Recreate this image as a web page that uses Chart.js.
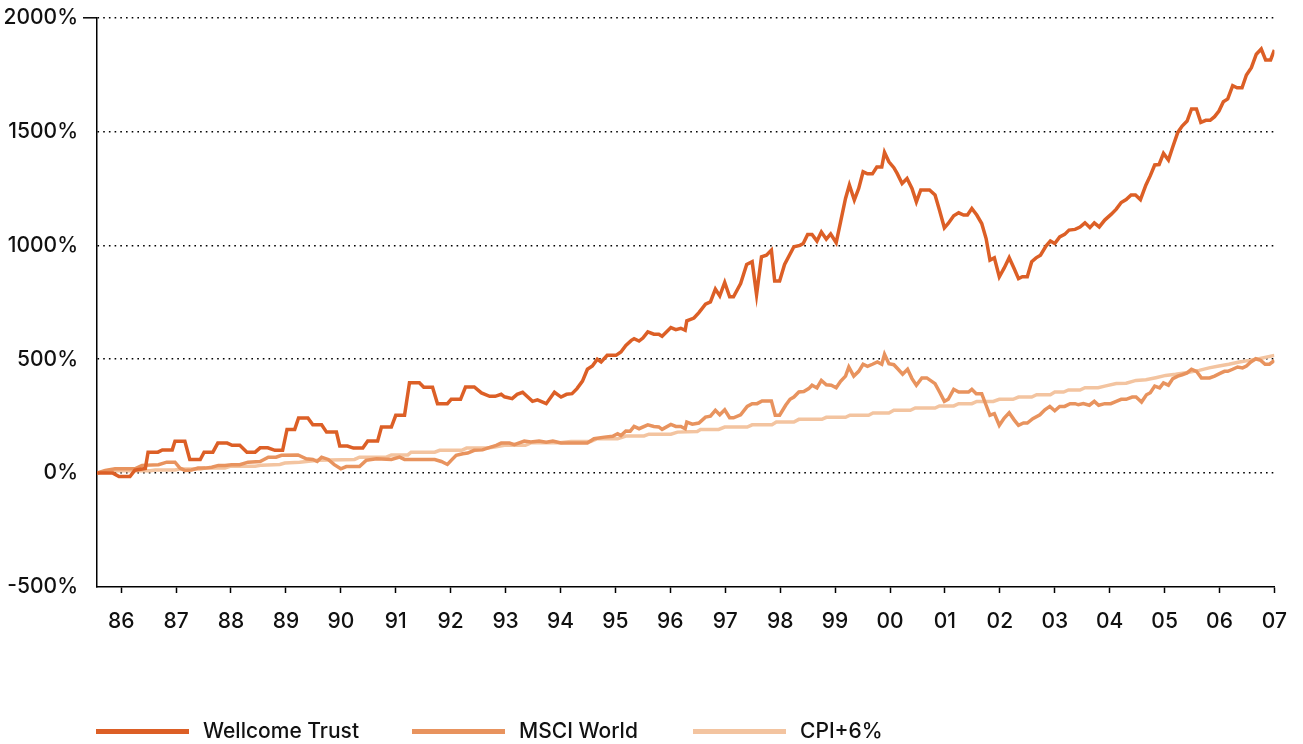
<!DOCTYPE html>
<html>
<head>
<meta charset="utf-8">
<script src="https://cdn.jsdelivr.net/npm/chart.js@4.4.1/dist/chart.umd.min.js"></script>
<style>
  html, body { margin: 0; padding: 0; background: #fff; }
  #wrap { position: relative; width: 1303px; height: 744px; }
  #chart { position: absolute; left: 0; top: 0; }
  .legend { position: absolute; top: 716px; font-family: Inter, "Liberation Sans", Arial, sans-serif; font-weight: 500; font-size: 21px; color: #111; }
  .legend .swatch { position: absolute; top: 13px; width: 93px; height: 5px; }
  .legend .label { position: absolute; top: 2px; white-space: nowrap; }
</style>
</head>
<body>
<div id="wrap">
  <canvas id="chart" width="1303" height="744"></canvas>
  <div class="legend" id="legend"></div>
</div>
<script>
// x positions are decimal years (tick "86" = 1986.0)
const xStart = 1985.56;
const xEnd = 2007.0;
const yearTicks = [1986, 1987, 1988, 1989, 1990, 1991, 1992, 1993, 1994, 1995, 1996,
  1997, 1998, 1999, 2000, 2001, 2002, 2003, 2004, 2005, 2006, 2007];
const pctTicks = [-500, 0, 500, 1000, 1500, 2000];

const seriesNames = ['Wellcome Trust', 'MSCI World', 'CPI+6%'];
const seriesColors = ['#DC5F26', '#E8935E', '#F3C4A0'];

const wellcomeX = [1985.56, 1985.71, 1985.85, 1985.96, 1986.16, 1986.25, 1986.44, 1986.49, 1986.67, 1986.75,
  1986.93, 1986.98, 1987.16, 1987.25, 1987.44, 1987.51, 1987.67, 1987.76, 1987.93, 1988.02,
  1988.16, 1988.29, 1988.44, 1988.53, 1988.67, 1988.80, 1988.94, 1989.02, 1989.16, 1989.23,
  1989.40, 1989.49, 1989.65, 1989.74, 1989.92, 1989.98, 1990.12, 1990.23, 1990.40, 1990.49,
  1990.67, 1990.74, 1990.92, 1991.00, 1991.16, 1991.25, 1991.43, 1991.51, 1991.67, 1991.76,
  1991.94, 1992.01, 1992.18, 1992.27, 1992.43, 1992.56, 1992.71, 1992.81, 1992.92, 1992.98,
  1993.12, 1993.21, 1993.31, 1993.49, 1993.58, 1993.74, 1993.89, 1994.01, 1994.11, 1994.21,
  1994.30, 1994.40, 1994.49, 1994.58, 1994.67, 1994.74, 1994.85, 1995.01, 1995.10, 1995.19,
  1995.29, 1995.34, 1995.43, 1995.50, 1995.59, 1995.70, 1995.79, 1995.85, 1996.01, 1996.10,
  1996.19, 1996.27, 1996.30, 1996.43, 1996.52, 1996.64, 1996.73, 1996.82, 1996.90, 1996.99,
  1997.08, 1997.15, 1997.28, 1997.39, 1997.49, 1997.57, 1997.66, 1997.75, 1997.84, 1997.90,
  1997.99, 1998.08, 1998.25, 1998.36, 1998.42, 1998.50, 1998.58, 1998.67, 1998.75, 1998.84,
  1998.92, 1999.02, 1999.10, 1999.19, 1999.26, 1999.35, 1999.43, 1999.51, 1999.59, 1999.68,
  1999.76, 1999.85, 1999.90, 1999.98, 2000.07, 2000.13, 2000.22, 2000.31, 2000.40, 2000.48,
  2000.56, 2000.72, 2000.82, 2000.90, 2000.99, 2001.06, 2001.16, 2001.25, 2001.34, 2001.41,
  2001.49, 2001.58, 2001.67, 2001.75, 2001.82, 2001.90, 2001.99, 2002.08, 2002.17, 2002.26,
  2002.34, 2002.41, 2002.50, 2002.58, 2002.66, 2002.74, 2002.84, 2002.92, 2003.00, 2003.09,
  2003.18, 2003.26, 2003.37, 2003.46, 2003.55, 2003.64, 2003.72, 2003.81, 2003.91, 2004.03,
  2004.12, 2004.21, 2004.30, 2004.39, 2004.47, 2004.56, 2004.66, 2004.74, 2004.82, 2004.90,
  2004.98, 2005.07, 2005.15, 2005.24, 2005.32, 2005.41, 2005.49, 2005.58, 2005.66, 2005.75,
  2005.83, 2005.91, 2005.99, 2006.07, 2006.15, 2006.24, 2006.32, 2006.41, 2006.49, 2006.58,
  2006.67, 2006.76, 2006.84, 2006.93, 2007.00];
const wellcomeY = [0, 0, 0, -15, -15, 13, 20, 92, 92, 102,
  102, 140, 140, 60, 60, 92, 92, 132, 132, 122,
  122, 92, 92, 111, 111, 100, 100, 192, 192, 242,
  242, 212, 212, 180, 180, 119, 119, 110, 110, 141,
  141, 202, 202, 254, 254, 397, 397, 377, 377, 305,
  305, 324, 324, 378, 378, 352, 337, 337, 346, 335,
  327, 346, 355, 315, 322, 305, 355, 334, 346, 349,
  371, 404, 456, 470, 500, 488, 517, 517, 532, 561,
  583, 590, 580, 593, 620, 610, 610, 601, 639, 630,
  636, 627, 669, 681, 705, 742, 752, 808, 778, 837,
  774, 774, 832, 916, 928, 784, 950, 957, 979, 843,
  843, 916, 994, 1000, 1008, 1048, 1048, 1019, 1059, 1027,
  1050, 1012, 1103, 1206, 1265, 1199, 1250, 1323, 1314, 1314,
  1344, 1344, 1408, 1367, 1341, 1316, 1272, 1294, 1250, 1191,
  1243, 1243, 1221, 1155, 1077, 1096, 1130, 1143, 1133, 1133,
  1162, 1133, 1096, 1030, 935, 945, 862, 901, 946, 898,
  854, 862, 862, 928, 945, 957, 997, 1019, 1008, 1037,
  1048, 1067, 1070, 1080, 1099, 1078, 1099, 1081, 1111, 1137,
  1159, 1188, 1201, 1221, 1221, 1201, 1265, 1306, 1353, 1355,
  1404, 1375, 1433, 1496, 1524, 1546, 1599, 1599, 1540, 1549,
  1549, 1565, 1590, 1631, 1643, 1701, 1692, 1692, 1748, 1780,
  1839, 1862, 1814, 1814, 1858];

const msciX = [1985.56, 1985.71, 1985.89, 1986.25, 1986.38, 1986.68, 1986.83, 1986.98, 1987.07, 1987.16,
  1987.28, 1987.40, 1987.53, 1987.65, 1987.77, 1987.89, 1988.01, 1988.16, 1988.31, 1988.53,
  1988.68, 1988.82, 1988.92, 1989.22, 1989.37, 1989.49, 1989.57, 1989.65, 1989.77, 1989.88,
  1990.00, 1990.10, 1990.34, 1990.46, 1990.65, 1990.92, 1991.07, 1991.16, 1991.71, 1991.83,
  1991.94, 1992.01, 1992.10, 1992.22, 1992.31, 1992.43, 1992.58, 1992.67, 1992.83, 1992.92,
  1993.07, 1993.16, 1993.34, 1993.46, 1993.61, 1993.74, 1993.86, 1994.01, 1994.49, 1994.61,
  1994.80, 1994.95, 1995.04, 1995.10, 1995.19, 1995.27, 1995.34, 1995.43, 1995.59, 1995.70,
  1995.79, 1995.85, 1996.01, 1996.10, 1996.19, 1996.27, 1996.30, 1996.40, 1996.52, 1996.64,
  1996.73, 1996.82, 1996.90, 1996.99, 1997.08, 1997.15, 1997.28, 1997.40, 1997.49, 1997.58,
  1997.67, 1997.84, 1997.91, 1997.99, 1998.10, 1998.18, 1998.25, 1998.34, 1998.43, 1998.52,
  1998.58, 1998.67, 1998.75, 1998.84, 1998.93, 1999.02, 1999.10, 1999.19, 1999.25, 1999.34,
  1999.43, 1999.51, 1999.59, 1999.68, 1999.77, 1999.85, 1999.90, 1999.98, 2000.07, 2000.14,
  2000.23, 2000.32, 2000.40, 2000.48, 2000.58, 2000.67, 2000.82, 2000.91, 2000.99, 2001.06,
  2001.16, 2001.25, 2001.43, 2001.49, 2001.57, 2001.67, 2001.75, 2001.82, 2001.90, 2001.99,
  2002.08, 2002.17, 2002.26, 2002.34, 2002.43, 2002.50, 2002.60, 2002.73, 2002.82, 2002.91,
  2003.00, 2003.09, 2003.18, 2003.28, 2003.37, 2003.43, 2003.52, 2003.63, 2003.72, 2003.80,
  2003.91, 2004.02, 2004.12, 2004.21, 2004.30, 2004.41, 2004.48, 2004.58, 2004.67, 2004.74,
  2004.82, 2004.91, 2004.98, 2005.07, 2005.15, 2005.24, 2005.32, 2005.41, 2005.49, 2005.58,
  2005.67, 2005.82, 2005.91, 2006.00, 2006.09, 2006.15, 2006.24, 2006.33, 2006.42, 2006.49,
  2006.57, 2006.66, 2006.75, 2006.83, 2006.91, 2007.00];
const msciY = [0, 12, 19, 19, 34, 37, 48, 48, 22, 12,
  14, 22, 22, 26, 34, 34, 37, 37, 48, 51,
  70, 70, 78, 80, 63, 60, 51, 70, 60, 37,
  19, 29, 29, 56, 63, 60, 70, 60, 60, 51,
  38, 56, 78, 85, 88, 100, 102, 110, 122, 132,
  132, 125, 141, 137, 141, 136, 141, 132, 132, 151,
  158, 162, 173, 165, 185, 184, 205, 195, 212, 205,
  203, 192, 214, 205, 205, 195, 224, 215, 220, 246,
  250, 276, 256, 278, 243, 243, 256, 293, 305, 305,
  317, 317, 254, 254, 298, 324, 334, 356, 358, 371,
  386, 374, 407, 388, 386, 375, 403, 426, 466, 426,
  447, 478, 469, 478, 488, 478, 522, 480, 476, 458,
  434, 456, 415, 386, 418, 418, 393, 353, 315, 324,
  368, 356, 356, 368, 349, 349, 298, 254, 261, 210,
  242, 265, 234, 210, 220, 220, 239, 256, 278, 293,
  274, 293, 293, 305, 305, 300, 305, 298, 315, 298,
  305, 305, 315, 324, 324, 334, 334, 312, 344, 353,
  382, 374, 396, 386, 415, 426, 432, 440, 456, 447,
  418, 418, 426, 437, 447, 447, 456, 466, 462, 470,
  488, 502, 495, 478, 478, 495];

const cpiX = [1985.56, 1985.76, 1986.53, 1986.62, 1986.98, 1987.07, 1987.44, 1987.53, 1987.89, 1987.98,
  1988.44, 1988.56, 1988.89, 1988.98, 1989.25, 1989.58, 1990.25, 1990.34, 1990.83, 1990.92,
  1991.22, 1991.28, 1991.71, 1991.80, 1992.20, 1992.29, 1992.67, 1992.80, 1992.98, 1993.36,
  1993.46, 1993.98, 1994.19, 1994.55, 1994.67, 1995.04, 1995.19, 1995.52, 1995.61, 1996.01,
  1996.13, 1996.49, 1996.55, 1996.88, 1996.99, 1997.40, 1997.49, 1997.85, 1997.93, 1998.25,
  1998.34, 1998.76, 1998.84, 1999.19, 1999.27, 1999.61, 1999.69, 1999.98, 2000.07, 2000.37,
  2000.46, 2000.82, 2000.90, 2001.16, 2001.25, 2001.49, 2001.58, 2001.88, 2001.99, 2002.24,
  2002.34, 2002.58, 2002.67, 2002.92, 2003.00, 2003.16, 2003.25, 2003.46, 2003.55, 2003.79,
  2003.91, 2004.12, 2004.30, 2004.48, 2004.66, 2004.84, 2005.02, 2005.20, 2005.39, 2005.63,
  2005.81, 2005.99, 2006.17, 2006.36, 2006.54, 2006.72, 2007.00];
const cpiY = [0, 10, 10, 14, 14, 18, 18, 22, 22, 30,
  30, 35, 38, 44, 48, 56, 60, 70, 70, 80,
  80, 92, 92, 100, 100, 110, 110, 115, 122, 122,
  133, 133, 139, 139, 151, 151, 163, 163, 171, 171,
  180, 183, 192, 192, 202, 202, 212, 212, 224, 224,
  236, 236, 245, 245, 254, 254, 264, 264, 276, 276,
  286, 286, 295, 295, 305, 305, 315, 315, 324, 324,
  334, 334, 344, 344, 356, 356, 365, 365, 375, 375,
  382, 393, 395, 407, 410, 419, 429, 434, 441, 451,
  462, 470, 478, 488, 495, 502, 517];

const toPoints = (xs, ys) => xs.map((x, i) => ({ x: x, y: ys[i] }));
const seriesData = [toPoints(wellcomeX, wellcomeY), toPoints(msciX, msciY), toPoints(cpiX, cpiY)];

const FONT = 'Inter, "Liberation Sans", Arial, sans-serif';

const chart = new Chart(document.getElementById('chart'), {
  type: 'line',
  data: {
    datasets: seriesNames.map((name, i) => ({
      label: name,
      data: seriesData[i],
      borderColor: seriesColors[i],
      backgroundColor: seriesColors[i],
      borderWidth: 3.5,
      pointRadius: 0,
      tension: 0,
      fill: false
    }))
  },
  options: {
    responsive: false,
    animation: false,
    layout: { padding: { left: 0, right: 26, top: 0, bottom: 107 } },
    plugins: {
      legend: { display: false },
      tooltip: { enabled: false }
    },
    scales: {
      x: {
        type: 'linear',
        min: xStart,
        max: xEnd,
        afterBuildTicks: scale => { scale.ticks = yearTicks.map(v => ({ value: v })); },
        afterFit: scale => { scale.height = 50; },
        grid: { drawOnChartArea: false, drawTicks: true, tickLength: 6, tickColor: '#000', tickWidth: 1.5 },
        border: { display: true, color: '#000', width: 1.5 },
        ticks: {
          padding: 16,
          color: '#111',
          font: { family: FONT, size: 21, weight: '500' },
          maxRotation: 0,
          autoSkip: false,
          callback: v => String(v % 100).padStart(2, '0')
        }
      },
      y: {
        min: -500,
        max: 2000,
        afterBuildTicks: scale => { scale.ticks = pctTicks.map(v => ({ value: v })); },
        afterFit: scale => { scale.width = 97; },
        grid: {
          drawTicks: true,
          tickLength: 14,
          tickWidth: 1.5,
          tickColor: ctx => (ctx.tick && ctx.tick.value === 2000) ? '#000' : 'rgba(0,0,0,0)',
          color: ctx => (ctx.tick && ctx.tick.value === -500) ? 'rgba(0,0,0,0)' : '#000',
          lineWidth: 1.6
        },
        border: { display: true, color: '#000', width: 1.5, dash: [1.6, 4.1] },
        ticks: {
          padding: 5,
          color: '#111',
          font: { family: FONT, size: 21, weight: '500' },
          callback: v => v + '%'
        }
      }
    }
  }
});

// HTML legend built from the same series names and colours
const legendPos = [96, 412, 693];
const legendEl = document.getElementById('legend');
seriesNames.forEach((name, i) => {
  const sw = document.createElement('div');
  sw.className = 'swatch';
  sw.style.left = legendPos[i] + 'px';
  sw.style.background = seriesColors[i];
  legendEl.appendChild(sw);
  const lb = document.createElement('div');
  lb.className = 'label';
  lb.style.left = (legendPos[i] + 107) + 'px';
  lb.textContent = name;
  legendEl.appendChild(lb);
});
</script>
</body>
</html>
